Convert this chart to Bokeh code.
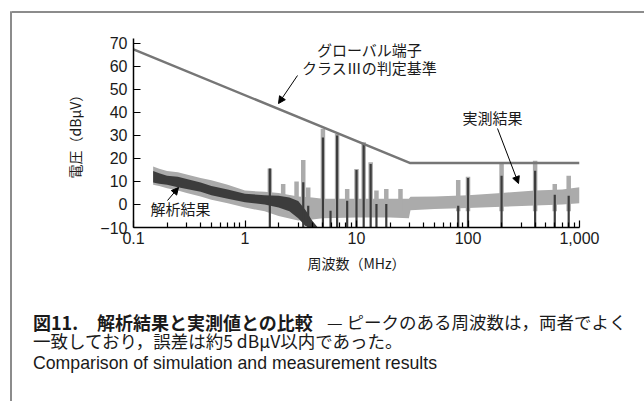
from bokeh.plotting import figure
from bokeh.layouts import row, column
from bokeh.models import FixedTicker, Label, Arrow, NormalHead, Range1d, Div
from bokeh.embed import file_html
from bokeh.resources import INLINE

# ---------------- data ----------------
meas_freq = [0.15, 0.17, 0.2, 0.25, 0.3, 0.4, 0.5, 0.7, 1.0, 1.5, 2.0, 3.0, 4.0, 5.0,
             10, 20, 29.5, 30.5, 50, 100, 200, 400, 700, 1000]
meas_upper = [16.5, 15.5, 14.5, 14.0, 13.0, 11.5, 10.5, 8.5, 6.0, 5.5, 5.0, 3.5, 3.0, 2.5,
              2.5, 2.5, 2.5, 3.3, 3.5, 4.0, 5.0, 6.0, 6.5, 7.5]
meas_lower = [8.5, 8.0, 7.0, 6.0, 5.0, 3.5, 2.0, 0.5, -1.3, -3.0, -5.0, -7.0, -6.5, -6.0,
              -5.7, -5.7, -6.0, -2.5, -2.0, -1.5, -1.0, -0.5, 0.0, 0.5]

sim_freq = [0.15, 0.17, 0.2, 0.25, 0.3, 0.4, 0.5, 0.7, 1.0, 1.5, 2.0, 2.5, 3.0, 3.5, 4.0, 4.5]
sim_upper = [14.5, 13.5, 12.5, 12.0, 11.0, 9.5, 8.0, 6.5, 4.6, 4.0, 3.8, 3.0, 1.5, -2.5, -7.0, -10.0]
sim_lower = [9.5, 9.0, 8.5, 7.5, 6.7, 5.5, 4.0, 2.5, 1.0, 0.0, -1.3, -3.0, -6.0, -9.5, -10.0, -10.0]

meas_spike_freq = [1.67, 2.2, 2.9, 3.33, 3.69, 5.0, 6.7, 8.25, 10, 11.6, 13.4, 15.1, 18.5, 24.8,
                   81.7, 100, 200, 400, 600, 800]
meas_spike_top = [15.6, 8.9, 10.0, 19.3, 7.4, 32.8, 30.6, 6.7, 15.4, 27.0, 18.3, 6.0, 6.7, 6.7,
                  10.6, 12.0, 17.6, 19.0, 8.9, 12.5]
sim_spike_freq = [1.67, 3.33, 3.69, 5.0, 5.85, 6.7, 8.25, 10, 11.6, 13.4, 15.1, 18.5,
                  81.7, 100, 200, 400, 600, 800]
sim_spike_top = [15.6, 9.6, -0.6, 29.1, -2.7, 29.9, 1.6, 15.0, 26.2, 17.6, 0.2, 0.2,
                 -0.6, 11.5, 12.5, 14.6, 4.2, 3.8]

limit_freq = [0.1, 30, 1000]
limit_level = [67.3, 18.0, 18.0]

x_ticks = [0.1, 1, 10, 100, 1000]
x_tick_labels = ["0.1", "1", "10", "100", "1,000"]
x_minor = [m * d for d in (0.1, 1, 10, 100) for m in (2, 3, 4, 5, 6, 7, 8, 9)]
y_ticks = [-10, 0, 10, 20, 30, 40, 50, 60, 70]
y_tick_labels = ["\u221210", "0", "10", "20", "30", "40", "50", "60", "70"]

caption_bold_no = "図11."
caption_bold = "解析結果と実測値との比較"
caption_rest1 = "— ピークのある周波数は，両者でよく"
caption_line2 = "一致しており，誤差は約5 dBμV以内であった。"
caption_en = "Comparison of simulation and measurement results"

# ---------------- geometry (page pixels) ----------------
PW, PH = 644, 401
SX, SY = 12, 14                     # chart / caption column origin on the page
FL, FR, FT, FB = 133, 579, 38, 227  # plot frame on the page
CB = 290                            # chart bottom / caption top
X0, X1, Y0, Y1 = 0.1, 1000, -10, 72
FRAME_COLOR = "#8c8c8c"
LIGHT = "#ababab"
DARK = "#3c3c3c"
INK = "#1a1a1a"


def dx(px):
    return 10 ** (-1 + 4 * (px - FL) / (FR - FL))


def dy(py):
    return Y0 + (Y1 - Y0) * (FB - py) / (FB - FT)


# left page-frame line
left_fig = figure(width=SX, height=PH, x_range=Range1d(0, SX), y_range=Range1d(PH, 0),
                  x_axis_location=None, y_axis_location=None, min_border=0,
                  output_backend="svg", toolbar_location=None)
left_fig.outline_line_color = None
left_fig.xgrid.visible = False
left_fig.ygrid.visible = False
left_fig.quad(left=[9.5], right=[11.5], top=[11], bottom=[PH], fill_color=FRAME_COLOR,
              line_color=None)
left_fig.quad(left=[9.5], right=[SX], top=[11], bottom=[13], fill_color=FRAME_COLOR,
              line_color=None)

# top page-frame line
top_div = Div(width=PW - SX, height=SY, margin=0,
              text=f'<div style="position:relative;width:{PW - SX}px;height:{SY}px">'
                   f'<div style="position:absolute;left:0;top:11px;width:{PW - SX}px;'
                   f'height:2px;background:{FRAME_COLOR}"></div></div>')

# ---------------- chart ----------------
p = figure(x_axis_type="log", x_range=Range1d(X0, X1), y_range=Range1d(Y0, Y1),
           frame_width=FR - FL, frame_height=FB - FT,
           min_border_left=FL - SX, min_border_right=PW - FR,
           min_border_top=FT - SY, min_border_bottom=CB - FB,
           output_backend="svg", toolbar_location=None)
p.outline_line_color = None
p.xgrid.visible = False
p.ygrid.visible = False

p.varea(x=meas_freq, y1=meas_lower, y2=meas_upper, fill_color=LIGHT)
p.segment(x0=meas_spike_freq, y0=[-3] * len(meas_spike_freq), x1=meas_spike_freq,
          y1=meas_spike_top, line_color=LIGHT, line_width=4.5)
p.varea(x=sim_freq, y1=sim_lower, y2=sim_upper, fill_color=DARK)
p.segment(x0=sim_spike_freq, y0=[Y0] * len(sim_spike_freq), x1=sim_spike_freq,
          y1=sim_spike_top, line_color=DARK, line_width=2.2)
p.line(limit_freq, limit_level, line_color="#767676", line_width=2.5)

p.xaxis.ticker = FixedTicker(ticks=x_ticks, minor_ticks=x_minor)
p.xaxis.major_label_overrides = dict(zip(x_ticks, x_tick_labels))
p.yaxis.ticker = FixedTicker(ticks=y_ticks)
p.yaxis.major_label_overrides = dict(zip(y_ticks, y_tick_labels))
for ax in (p.xaxis[0], p.yaxis[0]):
    ax.axis_line_color = "black"
    ax.axis_line_width = 1.5
    ax.major_tick_line_color = "black"
    ax.major_tick_line_width = 1.2
    ax.major_tick_in = 7
    ax.major_tick_out = 0
    ax.major_label_text_font = "Liberation Sans"
    ax.major_label_text_font_size = "16px"
    ax.major_label_text_color = INK
    ax.axis_label_text_font = "Noto Sans CJK JP"
    ax.axis_label_text_font_size = "14px"
    ax.axis_label_text_font_style = "normal"
    ax.axis_label_text_color = INK
p.xaxis.minor_tick_in = 5
p.xaxis.minor_tick_out = 0
p.xaxis.minor_tick_line_color = "black"
p.xaxis.minor_tick_line_width = 1.2
p.yaxis.minor_tick_line_color = None
p.xaxis.major_label_standoff = 4
p.yaxis.major_label_standoff = 6
p.xaxis.axis_label = "周波数（MHz）"
p.yaxis.axis_label = "電圧（dBμV）"
p.xaxis.axis_label_standoff = 6
p.yaxis.axis_label_standoff = 12


def lab(px, py, text, size="15px"):
    p.add_layout(Label(x=dx(px), y=dy(py), text=text, text_font="Noto Sans CJK JP",
                       text_font_size=size, text_align="center", text_baseline="middle",
                       text_color=INK))


lab(369, 49, "グローバル端子")
lab(369, 67, "クラスⅢの判定基準")
lab(492, 117, "実測結果")
lab(180, 208, "解析結果")


def arrow(x0, y0, x1, y1):
    p.add_layout(Arrow(end=NormalHead(size=7, fill_color="black", line_color="black"),
                       x_start=dx(x0), y_start=dy(y0), x_end=dx(x1), y_end=dy(y1),
                       line_color="black", line_width=1))


arrow(297, 75, 278, 103)
arrow(497, 128, 518, 183)
arrow(167, 200, 178, 187)

# ---------------- caption ----------------
LH = 18


def span(px, py, text, size, font, weight="normal"):
    return (f'<span style="position:absolute;left:{px - SX}px;top:{py - CB - LH / 2}px;'
            f'line-height:{LH}px;height:{LH}px;white-space:nowrap;font-family:\'{font}\';'
            f'font-size:{size};font-weight:{weight};color:{INK}">{text}</span>')


JP = "Noto Sans CJK JP"
cap_html = "".join([
    span(33, 322, caption_bold_no, "18px", JP, "bold"),
    span(97, 322, caption_bold, "18px", JP, "bold"),
    span(327, 322, caption_rest1, "17.5px", JP),
    span(33, 341, caption_line2, "17.5px", JP),
    span(33, 363, caption_en, "17.7px", "Liberation Sans"),
])
cap_div = Div(width=PW - SX, height=PH - CB, margin=0,
              text=f'<div style="position:relative;width:{PW - SX}px;height:{PH - CB}px">'
                   f'{cap_html}</div>')

layout = row(left_fig, column(top_div, p, cap_div, spacing=0), spacing=0)
open("out.html", "w").write(file_html(layout, INLINE))
